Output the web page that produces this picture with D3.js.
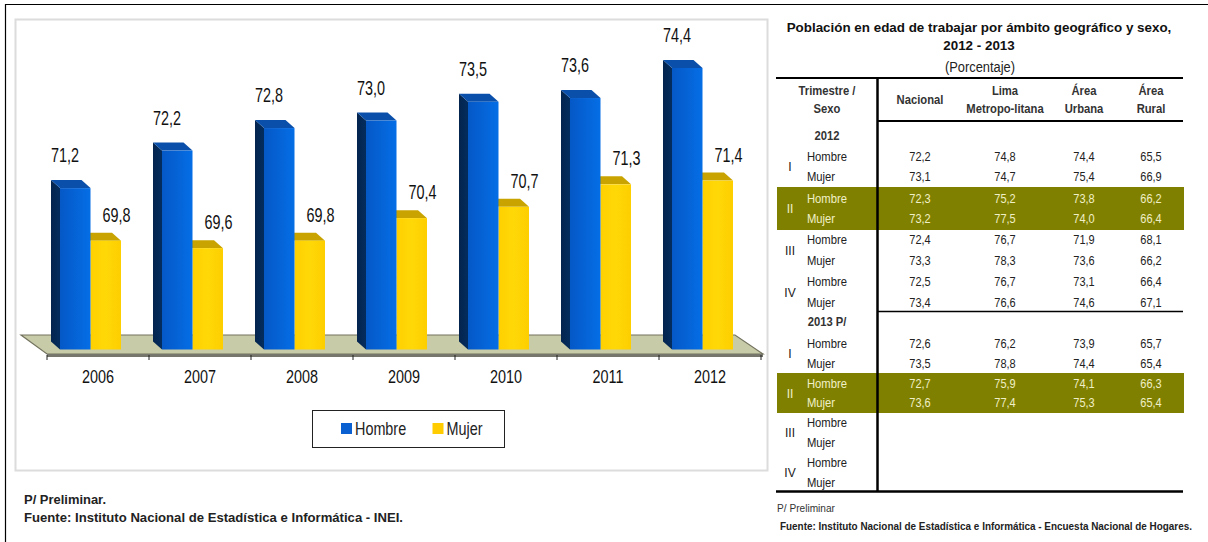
<!DOCTYPE html>
<html>
<head>
<meta charset="utf-8">
<script src="https://d3js.org/d3.v7.min.js"></script>
<style>
  html, body { margin: 0; background: #fff; }
  text { font-family: "Liberation Sans", Arial, sans-serif; }
</style>
</head>
<body>
<svg id="chart" width="1208" height="542"></svg>
<script>
const years = ["2006", "2007", "2008", "2009", "2010", "2011", "2012"];
const hombre = [71.2, 72.2, 72.8, 73.0, 73.5, 73.6, 74.4];
const mujer = [69.8, 69.6, 69.8, 70.4, 70.7, 71.3, 71.4];
const seriesNames = ["Hombre", "Mujer"];

const tableTitle = ["Población en edad de trabajar por ámbito geográfico y sexo,", "2012 - 2013"];
const tableUnit = "(Porcentaje)";
const colHeads = [["Nacional"], ["Lima", "Metropo-litana"], ["Área", "Urbana"], ["Área", "Rural"]];
const quarters = ["I", "II", "III", "IV", "I", "II", "III", "IV"];
const rowYears = ["2012", "2013 P/"];
const nacional = [72.2, 73.1, 72.3, 73.2, 72.4, 73.3, 72.5, 73.4, 72.6, 73.5, 72.7, 73.6];
const lima = [74.8, 74.7, 75.2, 77.5, 76.7, 78.3, 76.7, 76.6, 76.2, 78.8, 75.9, 77.4];
const urbana = [74.4, 75.4, 73.8, 74.0, 71.9, 73.6, 73.1, 74.6, 73.9, 74.4, 74.1, 75.3];
const rural = [65.5, 66.9, 66.2, 66.4, 68.1, 66.2, 66.4, 67.1, 65.7, 65.4, 66.3, 65.4];

const svg = d3.select("#chart");
const fmt = (v) => d3.format(".1f")(v).replace(".", ",");

// no narrow font installed, so squeeze the text horizontally
const place = (sel, px, py, sx) => sel.attr("transform", `translate(${px},${py}) scale(${sx},1)`);

// page frame and chart panel
svg.append("path").attr("d", "M5.5,542V4.5H1208").attr("fill", "none").attr("stroke", "#000").attr("stroke-width", 1.2);
svg.append("rect").attr("x", 15.5).attr("y", 19.5).attr("width", 752).attr("height", 451)
  .attr("fill", "#fff").attr("stroke", "#dcdcdc").attr("stroke-width", 2);

const defs = svg.append("defs");
function hGrad(id, stops) {
  const g = defs.append("linearGradient").attr("id", id);
  stops.forEach((s, i) => g.append("stop").attr("offset", i / (stops.length - 1)).attr("stop-color", s));
}
hGrad("blueFront", ["#0558c6", "#0563d6", "#056ee6"]);
hGrad("yellowFront", ["#ffd000", "#ffd808", "#fdce00"]);
hGrad("blueSide", ["#04244e", "#032d5e"]);

const x = d3.scaleBand().domain(years).range([47, 761]);
const xInner = d3.scaleBand().domain(seriesNames).range([13, 74]);
const y = d3.scaleLinear().domain([66.9, 74.4]).range([349.5, 68]);
const baseY = y.range()[0];
const dx = 9, dy = 8; // 3d depth of the columns

// floor
svg.append("path").attr("d", "M21,335H735L763,354H47Z").attr("fill", "#c8cba8").attr("stroke", "#74735f").attr("stroke-width", 1.2);
svg.append("path").attr("d", "M47,354H763V357H47Z").attr("fill", "#77766c");

const xAxis = svg.append("g").attr("transform", "translate(0,355)").call(d3.axisBottom(x).tickSize(0));
xAxis.select(".domain").remove();
xAxis.selectAll("text").attr("font-size", 18).attr("y", 0).attr("dy", 28).attr("fill", "#111")
  .attr("transform", "scale(0.8,1)");
xAxis.selectAll(".sep").data(d3.range(8)).join("line").attr("class", "sep")
  .attr("x1", (i) => 47 + i * x.step()).attr("x2", (i) => 47 + i * x.step())
  .attr("y1", 0).attr("y2", 5).attr("stroke", "#222");

const rows = years.map((yr, i) => ({ yr, Hombre: hombre[i], Mujer: mujer[i] }));
const palette = {
  Hombre: { front: "url(#blueFront)", side: "url(#blueSide)", top: "#0a50aa" },
  Mujer: { front: "url(#yellowFront)", side: "#c49c00", top: "#c9a400" },
};

const groups = svg.selectAll(".yr").data(rows).join("g").attr("class", "yr")
  .attr("transform", (d) => `translate(${x(d.yr)},0)`);

// mujer first: the taller blue column hides the left end of its top face
seriesNames.slice().reverse().forEach((name) => {
  const bw = xInner.bandwidth();
  const x0 = xInner(name);
  const c = palette[name];
  if (name === "Hombre") {
    groups.append("path").attr("fill", c.side)
      .attr("d", (d) => `M${x0},${y(d[name])}l${-dx},${-dy}V${baseY - dy}L${x0},${baseY}Z`);
  }
  groups.append("path").attr("fill", c.top)
    .attr("d", (d) => `M${x0},${y(d[name])}l${-dx},${-dy}h${bw}l${dx},${dy}Z`);
  groups.append("rect").attr("fill", c.front)
    .attr("x", x0).attr("y", (d) => y(d[name]))
    .attr("width", bw).attr("height", (d) => baseY - y(d[name]));
});
seriesNames.forEach((name) => {
  groups.append("text").attr("font-size", 20).attr("fill", "#111").attr("text-anchor", "middle")
    .attr("transform", (d) => `translate(${xInner(name) + (name === "Hombre" ? 5 : 26)},${y(d[name]) - (name === "Hombre" ? 26 : 19)}) scale(0.72,1)`)
    .text((d) => fmt(d[name]));
});

// legend
svg.append("rect").attr("x", 312.5).attr("y", 410.5).attr("width", 192).attr("height", 37)
  .attr("fill", "#fff").attr("stroke", "#222");
const legend = svg.selectAll(".leg").data(seriesNames).join("g").attr("class", "leg")
  .attr("transform", (d, i) => `translate(${i ? 432.5 : 341},423)`);
legend.append("rect").attr("width", 11).attr("height", 11).attr("fill", (d) => d === "Hombre" ? "#0a60d0" : "#ffcc00");
legend.append("text").attr("transform", "translate(14,12) scale(0.8,1)").attr("font-size", 18).attr("fill", "#222").text((d) => d);

// left notes
svg.append("text").attr("x", 24).attr("y", 504).attr("font-size", 13).attr("font-weight", "bold").attr("fill", "#222")
  .attr("textLength", 82).attr("lengthAdjust", "spacingAndGlyphs").text("P/ Preliminar.");
svg.append("text").attr("x", 24).attr("y", 522).attr("font-size", 13).attr("font-weight", "bold").attr("fill", "#222")
  .attr("textLength", 379).attr("lengthAdjust", "spacingAndGlyphs").text("Fuente: Instituto Nacional de Estadística e Informática - INEI.");

// table
const colX = [920, 1005, 1084, 1151];
const colVals = [nacional, lima, urbana, rural];
const rowY = [157, 177, 199, 219, 240, 261, 282, 303, 344, 364, 384, 403, 423, 443, 463, 483];
const sexX = 807;

const tbl = svg.append("g").attr("class", "table");
[[187, 43], [373, 40]].forEach(([t, h]) => tbl.append("rect").attr("x", 777).attr("y", t).attr("width", 407).attr("height", h).attr("fill", "#808000"));

tableTitle.forEach((t, i) => tbl.append("text").attr("x", 979).attr("y", 32 + i * 18).attr("text-anchor", "middle")
  .attr("font-size", 13.4).attr("font-weight", "bold").attr("fill", "#111").text(t));
place(tbl.append("text").attr("text-anchor", "middle").attr("font-size", 14).attr("fill", "#222").text(tableUnit), 980, 72, 0.92);

const hLines = [[776, 78, 2], [878, 121, 2], [878, 311.5, 1.5], [776, 491.5, 2.5]];
hLines.forEach(([x1, yy, w]) => tbl.append("line").attr("x1", x1).attr("x2", 1183).attr("y1", yy).attr("y2", yy).attr("stroke", "#000").attr("stroke-width", w));
tbl.append("line").attr("x1", 877.5).attr("x2", 877.5).attr("y1", 78).attr("y2", 492).attr("stroke", "#000").attr("stroke-width", 2.5);

const headText = (t, xx, yy) => place(tbl.append("text").attr("text-anchor", "middle")
  .attr("font-size", 12.5).attr("font-weight", "bold").attr("fill", "#333").text(t), xx, yy, 0.9);
headText("Trimestre /", 827, 95);
headText("Sexo", 827, 113);
colHeads.forEach((lines, c) => {
  if (lines.length === 1) headText(lines[0], colX[c], 104);
  else lines.forEach((l, i) => headText(l, colX[c], 95 + i * 18));
});
rowYears.forEach((t, i) => headText(t, 827, [140, 326][i]));

const isBand = (r) => (r >= 2 && r <= 3) || (r >= 10 && r <= 11);
const bandColor = "#f0f0c8";
rowY.forEach((yy, r) => {
  const col = isBand(r) ? bandColor : "#222";
  place(tbl.append("text").attr("font-size", 12.5).attr("fill", col).text(seriesNames[r % 2]), sexX, yy + 4, 0.9);
  if (r < 12) colVals.forEach((vals, c) => place(tbl.append("text")
    .attr("text-anchor", "middle").attr("font-size", 12.5).attr("fill", col).text(fmt(vals[r])), colX[c], yy + 4, 0.88));
});
quarters.forEach((q, i) => tbl.append("text").attr("x", 790).attr("y", (rowY[i * 2] + rowY[i * 2 + 1]) / 2 + 4)
  .attr("text-anchor", "middle").attr("font-size", 12).attr("fill", isBand(i * 2) ? bandColor : "#222").text(q));

tbl.append("text").attr("x", 777).attr("y", 512).attr("font-size", 10).attr("fill", "#333")
  .attr("textLength", 58).attr("lengthAdjust", "spacingAndGlyphs").text("P/ Preliminar");
tbl.append("text").attr("x", 780).attr("y", 530).attr("font-size", 10).attr("font-weight", "bold").attr("fill", "#222")
  .attr("textLength", 412).attr("lengthAdjust", "spacingAndGlyphs")
  .text("Fuente: Instituto Nacional de Estadística e Informática - Encuesta Nacional de Hogares.");
</script>
</body>
</html>
